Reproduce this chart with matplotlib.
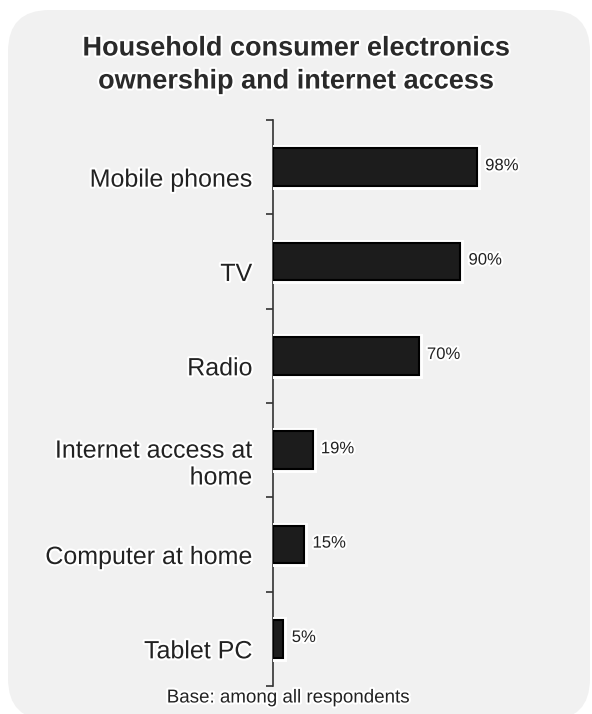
import matplotlib
matplotlib.use("Agg")
import matplotlib.pyplot as plt
import matplotlib.patheffects as pe
from matplotlib.patches import FancyBboxPatch
import matplotlib.transforms as mtransforms

categories = ["Mobile phones", "TV", "Radio", "Internet access at\nhome", "Computer at home", "Tablet PC"]
values = [98, 90, 70, 19, 15, 5]
value_labels = ["98%", "90%", "70%", "19%", "15%", "5%"]
title = "Household consumer electronics\nownership and internet access"
footer = "Base: among all respondents"

plt.rcParams['font.family'] = ['Liberation Sans', 'DejaVu Sans']

W, H = 592, 714
fig = plt.figure(figsize=(W / 100, H / 100), dpi=100)
fig.patch.set_facecolor('white')

# rounded background panel
panel = FancyBboxPatch((8 / W, -6 / H), 582 / W, (H - 10 + 6) / H,
                       boxstyle="round,pad=0,rounding_size=0.07",
                       transform=fig.transFigure, facecolor='#f1f1f1', edgecolor='none',
                       mutation_aspect=W / H, zorder=-5)
fig.patches.append(panel)

halo = [pe.withStroke(linewidth=3, foreground='white')]

ax_left = 273 / W
ax_top = 120
ax_bot = 686
ax_w = 208 / W
ax = fig.add_axes([ax_left, (H - ax_bot) / H, ax_w, (ax_bot - ax_top) / H])
ax.set_facecolor('none')
ax.set_zorder(2)

n = len(categories)
ypos = list(range(n))
bars = ax.barh(ypos, values, height=0.4, color='#1c1c1c', edgecolor='#000000', linewidth=1.5, zorder=3)
for b in bars:
    b.set_path_effects([pe.Stroke(linewidth=5, foreground='white'), pe.Normal()])

ax.set_xlim(0, 100)
ax.set_ylim(n - 0.5, -0.5)

for y, v, lab in zip(ypos, values, value_labels):
    t = ax.annotate(lab, (v, y), xytext=(6, 1), textcoords='offset points',
                    ha='left', va='center', fontsize=12, color='#222222',
                    annotation_clip=False, zorder=4)
    t.set_path_effects(halo)

for s in ['top', 'right', 'bottom']:
    ax.spines[s].set_visible(False)
ax.spines['left'].set_color('#333333')
ax.spines['left'].set_linewidth(1.2)
ax.set_xticks([])
ax.set_yticks(ypos)
ax.set_yticklabels(categories, fontsize=18, color='#222222')
ax.tick_params(axis='y', which='major', length=0, pad=15)
ax.set_yticks([i - 0.5 for i in range(n + 1)], minor=True)
ax.tick_params(axis='y', which='minor', length=5, width=1.2, color='#333333', direction='out')
offset = mtransforms.ScaledTranslation(0, -10 / 100, fig.dpi_scale_trans)
for lbl in ax.get_yticklabels():
    lbl.set_transform(lbl.get_transform() + offset)
    lbl.set_path_effects(halo)
    lbl.set_linespacing(1.15)

tt = fig.text(296 / W, 1 - 65 / H, title, ha='center', va='center', fontsize=19.5,
              fontweight='bold', color='#2a2a2a', linespacing=1.35)
tt.set_path_effects(halo)
ft = fig.text(288 / W, 1 - 698 / H, footer, ha='center', va='center', fontsize=13.5,
              color='#222222')
ft.set_path_effects(halo)

fig.savefig('out.png', dpi=100, facecolor=fig.get_facecolor())
